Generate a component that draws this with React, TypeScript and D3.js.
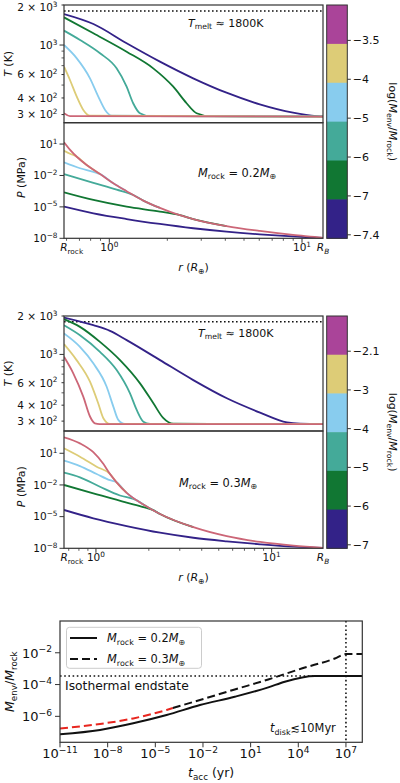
import React from 'react';
import * as d3 from 'd3';

const FONT = '"DejaVu Sans", "Liberation Sans", sans-serif';

// ---------- colours ----------
const LINE_COLORS = ['#332288', '#117733', '#44AA99', '#88CCEE', '#DDCC77', '#CC6677'];
const CBAR_COLORS = ['#AA4499', '#DDCC77', '#88CCEE', '#44AA99', '#117733', '#332288'];

// ---------- Panel A : M_rock = 0.2 M_earth ----------
const A_R_RANGE = [0.582, 12.85];
const A_R_ROCK = 0.638;
const A_T_RANGE = [260.6, 2000];
const A_P_RANGE = [1e-8, 1096];
const A_CBAR_TICKS = ['−3.5', '−4', '−5', '−6', '−7', '−7.4'];
const A_MASS = '0.2';

const A_T_R = [
  [0.582, 0.827, 1.23, 1.831, 2.725, 4.056, 6.037, 8.985, 11.885, 12.85],
  [0.582, 0.827, 1.23, 1.69, 2.148, 2.518, 2.838, 3.327, 12.85],
  [0.582, 0.705, 0.895, 1.091, 1.23, 1.33, 1.442, 1.626, 12.85],
  [0.582, 0.678, 0.794, 0.877, 0.951, 1.028, 12.85],
  [0.582, 0.625, 0.678, 0.733, 0.794, 12.85],
  [0.582, 0.625, 12.85],
];
const A_T_K = [
  [1711, 1439, 1031, 750, 562, 438, 358, 310, 292, 290],
  [1614, 1225, 891, 668, 486, 365, 307, 292, 290],
  [1283, 1091, 867, 668, 486, 365, 307, 292, 290],
  [1000, 794, 562, 409, 325, 294, 290],
  [687, 546, 409, 325, 294, 290],
  [307, 292, 290],
];
const A_P_R = [
  [0.582, 0.827, 1.23, 1.831, 2.725, 4.056, 6.037, 8.985, 12.85],
  [0.582, 0.827, 1.23, 1.831, 2.324, 2.725, 4.056],
  [0.582, 0.827, 1.092, 1.332, 1.501, 1.831],
  [0.582, 0.705, 0.827, 0.895, 1.049, 1.23],
  [0.582, 0.626, 0.678, 0.763, 0.895],
  [0.582, 0.626, 0.678, 0.763, 0.895, 1.049, 1.23, 1.501, 1.831, 2.234, 2.725, 4.056, 6.037, 8.985, 12.6, 12.85],
];
const A_P_MPA = [
  [1.05e-5, 2.45e-6, 6.92e-7, 2.34e-7, 9.12e-8, 4.27e-8, 2.4e-8, 1.55e-8, 1.07e-8],
  [2.45e-4, 4.57e-5, 1.05e-5, 3.55e-6, 1.62e-6, 6.92e-7, 1.48e-7],
  [1.38e-2, 2.0e-3, 4.47e-4, 1.38e-4, 3.98e-5, 7.94e-6],
  [0.182, 0.049, 0.0224, 0.0138, 1.78e-3, 3.16e-4],
  [2.34, 1.2, 0.617, 0.1, 0.0138],
  [14.8, 2.82, 0.617, 0.1, 0.0138, 1.78e-3, 3.16e-4, 3.98e-5, 7.94e-6, 2.0e-6, 6.92e-7, 1.48e-7, 5.01e-8, 2.09e-8, 1.15e-8, 1.1e-8],
];

// ---------- Panel B : M_rock = 0.3 M_earth ----------
const B_R_RANGE = [0.658, 19.6];
const B_R_ROCK = 0.73;
const B_T_RANGE = [251, 2000];
const B_P_RANGE = [1e-8, 1288];
const B_CBAR_TICKS = ['−2.1', '−3', '−4', '−5', '−6', '−7'];
const B_MASS = '0.3';

const B_T_R = [
  [0.658, 0.966, 1.202, 1.496, 2.317, 3.581, 5.559, 8.59, 12.22, 14.5, 19.6],
  [0.658, 0.811, 1.054, 1.371, 1.782, 2.123, 2.421, 2.754, 19.6],
  [0.658, 0.811, 1.054, 1.312, 1.563, 1.706, 1.862, 2.032, 19.6],
  [0.658, 0.811, 0.966, 1.151, 1.256, 1.34, 1.462, 19.6],
  [0.658, 0.776, 0.925, 1.03, 1.102, 1.202, 19.6],
  [0.658, 0.743, 0.847, 0.925, 0.986, 1.05, 19.6],
];
const B_T_K = [
  [1945, 1694, 1528, 1294, 902, 629, 453, 350, 293, 286, 284],
  [1888, 1644, 1254, 902, 593, 414, 316, 286, 284],
  [1694, 1415, 1048, 754, 495, 367, 297, 285, 284],
  [1459, 1146, 851, 558, 390, 307, 285, 284],
  [1203, 902, 611, 414, 316, 285, 284],
  [958, 711, 467, 326, 288, 284, 284],
];
const B_P_R = [
  [0.658, 0.966, 1.496, 2.316, 3.586, 5.554, 8.6, 13.32, 19.6],
  [0.658, 0.966, 1.496, 1.861, 2.122, 2.316, 3.586],
  [0.658, 0.811, 1.054, 1.37, 1.705, 1.861, 2.316],
  [0.658, 0.811, 1.009, 1.201, 1.311, 1.496, 1.861],
  [0.658, 0.811, 1.009, 1.201, 1.311, 1.496],
  [0.658, 0.811, 0.966, 1.101, 1.201, 1.311, 1.496, 1.861, 2.316, 3.586, 5.554, 8.6, 13.32, 19.6],
];
const B_P_MPA = [
  [4.27e-5, 6.92e-6, 1.29e-6, 3.02e-7, 1.0e-7, 4.57e-8, 2.4e-8, 1.41e-8, 1.07e-8],
  [0.01, 1.62e-3, 2.09e-4, 7.94e-5, 4.07e-5, 1.78e-5, 1.0e-6],
  [0.145, 0.0525, 6.76e-3, 1.0e-3, 3.55e-4, 1.41e-4, 1.78e-5],
  [2.0, 0.617, 0.11, 0.0282, 0.0178, 1.78e-3, 1.41e-4],
  [29.5, 4.68, 0.537, 0.112, 0.0178, 1.78e-3],
  [324, 87.1, 12.6, 1.0, 0.112, 0.0178, 1.78e-3, 1.41e-4, 1.78e-5, 1.0e-6, 1.41e-7, 3.98e-8, 1.78e-8, 1.12e-8],
];

const T_MELT = 1800;
const T_TICKS_MAJOR = [1000];
const T_TICKS_LABELED = [2000, 1000, 600, 400, 300];
const T_TICK_LABELS = [['2 × 10', '3'], ['10', '3'], ['6 × 10', '2'], ['4 × 10', '2'], ['3 × 10', '2']];
const T_TICKS_MINOR = [500, 700, 800, 900];
const P_TICKS = [10, 1e-2, 1e-5, 1e-8];
const P_TICK_EXP = ['1', '−2', '−5', '−8'];
const R_TICKS_MAJOR = [1, 10];
const R_TICK_EXP = ['0', '1'];
const R_TICKS_MINOR = [0.6, 0.7, 0.8, 0.9, 2, 3, 4, 5, 6, 7, 8, 9, 20];

// ---------- Bottom panel: envelope mass vs accretion time ----------
const T_ACC_RANGE = [1e-11, 1.07e8];
const M_RATIO_RANGE = [2.32e-8, 1];
const T_ACC_02 = [1e-11, 3.31e-9, 4.07e-7, 5.13e-5, 6.46e-3, 1, 129, 1413, 1.1e5, 1.07e8];
const M_RATIO_02 = [7.41e-8, 1.38e-7, 3.63e-7, 1.2e-6, 5.13e-6, 1.7e-5, 6.61e-5, 1.51e-4, 3.47e-4, 3.47e-4];
const T_ACC_03 = [1e-11, 3.31e-9, 4.07e-7, 5.13e-5, 1.26e-4, 6.46e-3, 1, 129, 1.62e4, 2.0e6, 1e7, 1.07e8];
const M_RATIO_03 = [1.74e-7, 3.31e-7, 7.41e-7, 2.51e-6, 3.31e-6, 1.07e-5, 4.9e-5, 2.09e-4, 1.02e-3, 4.37e-3, 8.32e-3, 8.32e-3];
const RED_UNTIL = 1.26e-4;
const M_ISO = 3.47e-4;
const T_DISK = 1e7;
const X_TICKS_B = [1e-11, 1e-8, 1e-5, 1e-2, 1e1, 1e4, 1e7];
const X_TICK_EXP_B = ['−11', '−8', '−5', '−2', '1', '4', '7'];
const Y_TICKS_B = [1e-2, 1e-4, 1e-6];
const Y_TICK_EXP_B = ['−2', '−4', '−6'];

type Seg = [string, string?];

function spans(segs: Seg[], size: number) {
  let cur = 0;
  return segs.map(([t, f = ''], k) => {
    const sub = f.includes('s');
    const sup = f.includes('p');
    const target = sub ? size * 0.22 : sup ? -size * 0.4 : 0;
    const dy = target - cur;
    cur = target;
    return (
      <tspan key={k} dy={dy} fontSize={sub || sup ? size * 0.7 : size}
        fontStyle={f.includes('i') ? 'italic' : 'normal'} style={{ whiteSpace: 'pre' }}>{t}</tspan>
    );
  });
}

function Txt({ x = 0, y = 0, segs, size, anchor = 'start', transform }: any) {
  return (
    <text x={x} y={y} fontSize={size} textAnchor={anchor} transform={transform} fill="#111" style={{ whiteSpace: 'pre' }}>
      {spans(segs, size)}
    </text>
  );
}

const AX = '#333';

function ProfilePanel(p: any) {
  const L = 64, R = 323;
  const { top, mid, bottom, id } = p;
  const x = d3.scaleLog().domain(p.rRange).range([L, R]);
  const yT = d3.scaleLog().domain(p.tRange).range([mid, top]);
  const yP = d3.scaleLog().domain(p.pRange).range([bottom, mid]);
  const mk = (y: any) => d3.line<[number, number]>().x(d => x(d[0])).y(d => y(d[1])).curve(d3.curveMonotoneX);
  const lT = mk(yT), lP = mk(yP);
  const fs = 10.5;
  const cb = d3.scaleLinear().domain([0, 6]).range([top, bottom]);
  const cbx0 = 326.7, cbx1 = 347.3;
  const minors = R_TICKS_MINOR.filter(v => v > p.rRange[0] && v < p.rRange[1]);
  return (
    <g>
      <defs>
        <clipPath id={`${id}-t`}><rect x={L} y={top} width={R - L} height={mid - top} /></clipPath>
        <clipPath id={`${id}-p`}><rect x={L} y={mid} width={R - L} height={bottom - mid} /></clipPath>
      </defs>
      {/* T melt */}
      <line x1={L} x2={R} y1={yT(T_MELT)} y2={yT(T_MELT)} stroke="#111" strokeWidth={1.5} strokeDasharray="1.6,2.4" />
      <Txt x={p.tmeltX} y={p.tmeltY} size={11} segs={[['T', 'i'], ['melt', 's'], [' ≈ 1800K']]} />
      <g clipPath={`url(#${id}-t)`}>
        {p.tR.map((rs: number[], i: number) => (
          <path key={i} d={lT(d3.zip(rs, p.tK[i]) as any) || ''} fill="none" stroke={LINE_COLORS[i]} strokeWidth={1.8} />
        ))}
      </g>
      <g clipPath={`url(#${id}-p)`}>
        {p.pR.map((rs: number[], i: number) => (
          <path key={i} d={lP(d3.zip(rs, p.pP[i]) as any) || ''} fill="none" stroke={LINE_COLORS[i]} strokeWidth={1.8} />
        ))}
      </g>
      <Txt x={p.massX} y={p.massY} size={11.4} segs={[['M', 'i'], ['rock', 's'], [' = ' + p.mass], ['M', 'i'], ['⊕', 's']]} />
      {/* frames */}
      <rect x={L} y={top} width={R - L} height={mid - top} fill="none" stroke={AX} strokeWidth={1.2} />
      <rect x={L} y={mid} width={R - L} height={bottom - mid} fill="none" stroke={AX} strokeWidth={1.2} />
      {/* T ticks */}
      {T_TICKS_LABELED.map((v, i) => (
        <g key={'tl' + i}>
          <line x1={L} x2={L - (T_TICKS_MAJOR.includes(v) ? 4.5 : 2.5)} y1={yT(v)} y2={yT(v)} stroke={AX} strokeWidth={1} />
          <Txt x={L - 6.5} y={Math.max(yT(v) + 3.8, 11)} size={fs} anchor="end" segs={[[T_TICK_LABELS[i][0]], [T_TICK_LABELS[i][1], 'p']]} />
        </g>
      ))}
      {T_TICKS_MINOR.map((v, i) => (
        <line key={'tm' + i} x1={L} x2={L - 2.5} y1={yT(v)} y2={yT(v)} stroke={AX} strokeWidth={0.8} />
      ))}
      {/* P ticks */}
      {P_TICKS.map((v, i) => (
        <g key={'p' + i}>
          <line x1={L} x2={L - 4.5} y1={yP(v)} y2={yP(v)} stroke={AX} strokeWidth={1} />
          <Txt x={L - 6.5} y={yP(v) + 3.8} size={fs} anchor="end" segs={[['10'], [P_TICK_EXP[i], 'p']]} />
        </g>
      ))}
      {/* r ticks */}
      {R_TICKS_MAJOR.map((v, i) => (
        <g key={'r' + i}>
          <line x1={x(v)} x2={x(v)} y1={bottom} y2={bottom + 4.5} stroke={AX} strokeWidth={1} />
          <Txt x={x(v)} y={bottom + 13} size={fs} anchor="middle" segs={[['10'], [R_TICK_EXP[i], 'p']]} />
        </g>
      ))}
      {minors.map((v, i) => (
        <line key={'rm' + i} x1={x(v)} x2={x(v)} y1={bottom} y2={bottom + 2.5} stroke={AX} strokeWidth={0.8} />
      ))}
      <Txt x={x(p.rRock)} y={bottom + 13} size={fs} anchor="middle" segs={[['R', 'i'], ['rock', 's']]} />
      <Txt x={R} y={bottom + 13} size={fs} anchor="middle" segs={[['R', 'i'], ['B', 'is']]} />
      <Txt x={(L + R) / 2} y={bottom + 33} size={11} anchor="middle" segs={[['r', 'i'], [' ('], ['R', 'i'], ['⊕', 's'], [')']]} />
      <Txt transform={`translate(12,${(top + mid) / 2}) rotate(-90)`} size={11} anchor="middle" segs={[['T', 'i'], [' (K)']]} />
      <Txt transform={`translate(25,${(mid + bottom) / 2 - 3}) rotate(-90)`} size={11} anchor="middle" segs={[['P', 'i'], [' (MPa)']]} />
      {/* colour bar */}
      {CBAR_COLORS.map((c, i) => (
        <rect key={'cb' + i} x={cbx0} y={cb(i)} width={cbx1 - cbx0} height={cb(i + 1) - cb(i) + 0.5} fill={c} />
      ))}
      <rect x={cbx0} y={top} width={cbx1 - cbx0} height={bottom - top} fill="none" stroke={AX} strokeWidth={1} />
      {p.cbarTicks.map((t: string, i: number) => (
        <g key={'ct' + i}>
          <line x1={cbx1} x2={cbx1 + 3.5} y1={cb(i + 1) - 3.5} y2={cb(i + 1) - 3.5} stroke={AX} strokeWidth={1} />
          <text x={cbx1 + 5.5} y={cb(i + 1) - 3.5 + 4} fontSize={11} fill="#111">{t}</text>
        </g>
      ))}
      <Txt transform={`translate(389,${(top + bottom) / 2}) rotate(90)`} size={11} anchor="middle"
        segs={[['log('], ['M', 'i'], ['env', 's'], ['/'], ['M', 'i'], ['rock', 's'], [')']]} />
    </g>
  );
}

function AccretionPanel() {
  const L = 60, R = 362.3, T = 621, B = 742.3;
  const x = d3.scaleLog().domain(T_ACC_RANGE).range([L, R]);
  const y = d3.scaleLog().domain(M_RATIO_RANGE).range([B, T]);
  const line = d3.line<[number, number]>().x(d => x(d[0])).y(d => y(d[1])).curve(d3.curveMonotoneX);
  const d02 = d3.zip(T_ACC_02, M_RATIO_02) as [number, number][];
  const d03 = d3.zip(T_ACC_03, M_RATIO_03) as [number, number][];
  const d03red = d03.filter(d => d[0] <= RED_UNTIL);
  const d03blk = d03.filter(d => d[0] >= RED_UNTIL);
  const fs = 13;
  return (
    <g>
      <defs>
        <clipPath id="accclip"><rect x={L} y={T} width={R - L} height={B - T} /></clipPath>
      </defs>
      <g clipPath="url(#accclip)">
        <line x1={L} x2={R} y1={y(M_ISO)} y2={y(M_ISO)} stroke="#111" strokeWidth={1.6} strokeDasharray="1.6,2.6" />
        <line x1={x(T_DISK)} x2={x(T_DISK)} y1={T} y2={B} stroke="#111" strokeWidth={1.6} strokeDasharray="1.6,2.6" />
        <path d={line(d02) || ''} fill="none" stroke="#111" strokeWidth={2} />
        <path d={line(d03red) || ''} fill="none" stroke="#e8261f" strokeWidth={2} strokeDasharray="8,4" />
        <path d={line(d03blk) || ''} fill="none" stroke="#111" strokeWidth={2} strokeDasharray="8,4" />
      </g>
      <rect x={L} y={T} width={R - L} height={B - T} fill="none" stroke={AX} strokeWidth={1.2} />
      {X_TICKS_B.map((v, i) => (
        <g key={'x' + i}>
          <line x1={x(v)} x2={x(v)} y1={B} y2={B + 5} stroke={AX} strokeWidth={1} />
          <Txt x={x(v)} y={B + 16} size={fs} anchor="middle" segs={[['10'], [X_TICK_EXP_B[i], 'p']]} />
        </g>
      ))}
      {Y_TICKS_B.map((v, i) => (
        <g key={'y' + i}>
          <line x1={L} x2={L - 5} y1={y(v)} y2={y(v)} stroke={AX} strokeWidth={1} />
          <Txt x={L - 8} y={y(v) + 4.8} size={fs} anchor="end" segs={[['10'], [Y_TICK_EXP_B[i], 'p']]} />
        </g>
      ))}
      <Txt x={(L + R) / 2} y={777} size={12.5} anchor="middle" segs={[['t', 'i'], ['acc', 's'], [' (yr)']]} />
      <Txt transform={`translate(14,${(T + B) / 2}) rotate(-90)`} size={12.5} anchor="middle"
        segs={[['M', 'i'], ['env', 's'], ['/'], ['M', 'i'], ['rock', 's']]} />
      <Txt x={65} y={690} size={12.3} segs={[['Isothermal endstate']]} />
      <Txt x={270} y={732} size={11.4} segs={[['t', 'i'], ['disk', 's'], ['≲10Myr']]} />
      {/* legend */}
      <rect x={66.5} y={627.3} width={135} height={41} rx={3} fill="#fff" fillOpacity={0.8} stroke="#ccc" strokeWidth={1} />
      <line x1={70} x2={97} y1={638} y2={638} stroke="#111" strokeWidth={2} />
      <line x1={70} x2={97} y1={659} y2={659} stroke="#111" strokeWidth={2} strokeDasharray="8,4" />
      <Txt x={107} y={642} size={11.4} segs={[['M', 'i'], ['rock', 's'], [' = 0.2'], ['M', 'i'], ['⊕', 's']]} />
      <Txt x={107} y={663} size={11.4} segs={[['M', 'i'], ['rock', 's'], [' = 0.3'], ['M', 'i'], ['⊕', 's']]} />
    </g>
  );
}

export default function App() {
  return (
    <svg width={400} height={783} style={{ position: 'absolute', left: 0, top: 0 }} fontFamily={FONT}>
      <rect width={400} height={783} fill="#fff" />
      <ProfilePanel id="pa" top={5} mid={122.7} bottom={238.3}
        rRange={A_R_RANGE} rRock={A_R_ROCK} tRange={A_T_RANGE} pRange={A_P_RANGE}
        tR={A_T_R} tK={A_T_K} pR={A_P_R} pP={A_P_MPA} cbarTicks={A_CBAR_TICKS} mass={A_MASS}
        tmeltX={188} tmeltY={27} massX={198} massY={176.7} />
      <ProfilePanel id="pb" top={316} mid={431} bottom={548.3}
        rRange={B_R_RANGE} rRock={B_R_ROCK} tRange={B_T_RANGE} pRange={B_P_RANGE}
        tR={B_T_R} tK={B_T_K} pR={B_P_R} pP={B_P_MPA} cbarTicks={B_CBAR_TICKS} mass={B_MASS}
        tmeltX={198} tmeltY={337} massX={179} massY={486.7} />
      <AccretionPanel />
    </svg>
  );
}
